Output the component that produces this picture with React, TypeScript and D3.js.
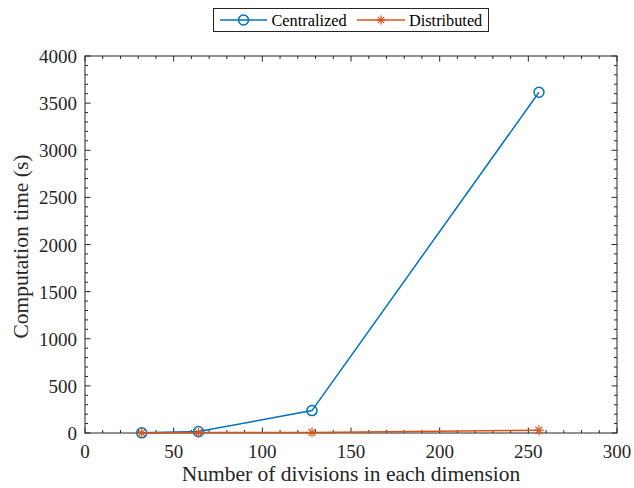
import React, { useEffect, useRef } from 'react';
import * as d3 from 'd3';

const divisions = [32, 64, 128, 256];
const centralized = [2, 15, 238, 3615];
const distributed = [1, 4, 5, 30];
const xTicks = [0, 50, 100, 150, 200, 250, 300];
const yTicks = [0, 500, 1000, 1500, 2000, 2500, 3000, 3500, 4000];

const BLUE = '#0072BD';
const ORANGE = '#D95319';
const FONT = '"Liberation Serif", "Times New Roman", serif';

const App = () => {
  const ref = useRef<SVGSVGElement>(null);

  useEffect(() => {
    const svg = d3.select(ref.current);
    svg.selectAll('*').remove();

    const width = 634;
    const height = 488;
    const margin = { top: 56, right: 17, bottom: 55, left: 85 };
    const innerW = width - margin.left - margin.right;
    const innerH = height - margin.top - margin.bottom;

    svg.append('rect').attr('width', width).attr('height', height).attr('fill', '#fff');

    const x = d3.scaleLinear().domain([0, 300]).range([0, innerW]);
    const y = d3.scaleLinear().domain([0, 4000]).range([innerH, 0]);

    const g = svg.append('g').attr('transform', `translate(${margin.left},${margin.top})`);

    // minor + major ticks, pointing inward on all four sides
    const minorX = d3.range(0, 301, 10);
    const minorY = d3.range(0, 4001, 100);
    const tickCol = '#262626';
    minorX.forEach(v => {
      const len = v % 50 === 0 ? 5.5 : 3;
      g.append('line').attr('x1', x(v)).attr('x2', x(v)).attr('y1', innerH).attr('y2', innerH - len)
        .attr('stroke', tickCol).attr('stroke-width', 1);
      g.append('line').attr('x1', x(v)).attr('x2', x(v)).attr('y1', 0).attr('y2', len)
        .attr('stroke', tickCol).attr('stroke-width', 1);
    });
    minorY.forEach(v => {
      const len = v % 500 === 0 ? 5.5 : 3;
      g.append('line').attr('x1', 0).attr('x2', len).attr('y1', y(v)).attr('y2', y(v))
        .attr('stroke', tickCol).attr('stroke-width', 1);
      g.append('line').attr('x1', innerW).attr('x2', innerW - len).attr('y1', y(v)).attr('y2', y(v))
        .attr('stroke', tickCol).attr('stroke-width', 1);
    });

    // box
    g.append('rect').attr('width', innerW).attr('height', innerH)
      .attr('fill', 'none').attr('stroke', tickCol).attr('stroke-width', 1);

    // tick labels
    g.selectAll('.xt').data(xTicks).enter().append('text')
      .attr('x', d => x(d)).attr('y', innerH + 25)
      .attr('text-anchor', 'middle')
      .style('font-family', FONT).style('font-size', '19px').attr('fill', '#262626')
      .text(d => d);
    g.selectAll('.yt').data(yTicks).enter().append('text')
      .attr('x', -8).attr('y', d => y(d) + 7)
      .attr('text-anchor', 'end')
      .style('font-family', FONT).style('font-size', '19px').attr('fill', '#262626')
      .text(d => d);

    // axis labels
    svg.append('text')
      .attr('x', 351).attr('y', 481)
      .attr('text-anchor', 'middle')
      .style('font-family', FONT).style('font-size', '21.5px').attr('fill', '#262626')
      .text('Number of divisions in each dimension');
    svg.append('text')
      .attr('transform', 'rotate(-90)')
      .attr('x', -246.5).attr('y', 28)
      .attr('text-anchor', 'middle')
      .style('font-family', FONT).style('font-size', '21.5px').attr('fill', '#262626')
      .text('Computation time (s)');

    const line = d3.line<number>().x((_, i) => x(divisions[i])).y(d => y(d));

    const star = (sel: any, cx: number, cy: number, color: string, r = 5) => {
      const s = sel.append('g').attr('transform', `translate(${cx},${cy})`)
        .attr('stroke', color).attr('stroke-width', 1.2);
      [0, 45, 90, 135].forEach(a => {
        const rad = (a * Math.PI) / 180;
        s.append('line').attr('x1', -r * Math.cos(rad)).attr('y1', -r * Math.sin(rad))
          .attr('x2', r * Math.cos(rad)).attr('y2', r * Math.sin(rad));
      });
    };

    // centralized
    g.append('path').datum(centralized).attr('d', line)
      .attr('fill', 'none').attr('stroke', BLUE).attr('stroke-width', 1.5);
    centralized.forEach((v, i) => {
      g.append('circle').attr('cx', x(divisions[i])).attr('cy', y(v)).attr('r', 5)
        .attr('fill', 'none').attr('stroke', BLUE).attr('stroke-width', 1.5);
    });

    // distributed
    g.append('path').datum(distributed).attr('d', line)
      .attr('fill', 'none').attr('stroke', ORANGE).attr('stroke-width', 1.5);
    distributed.forEach((v, i) => star(g, x(divisions[i]), y(v), ORANGE));

    // legend
    const lg = svg.append('g');
    lg.append('rect').attr('x', 213.5).attr('y', 8.5).attr('width', 275).attr('height', 23)
      .attr('fill', '#fff').attr('stroke', '#262626').attr('stroke-width', 1);
    const ly = 20;
    lg.append('line').attr('x1', 220).attr('x2', 267).attr('y1', ly).attr('y2', ly)
      .attr('stroke', BLUE).attr('stroke-width', 1.5);
    lg.append('circle').attr('cx', 243.5).attr('cy', ly).attr('r', 5)
      .attr('fill', 'none').attr('stroke', BLUE).attr('stroke-width', 1.5);
    lg.append('text').attr('x', 271.5).attr('y', ly + 6)
      .style('font-family', FONT).style('font-size', '16.3px').attr('fill', '#000')
      .text('Centralized');
    lg.append('line').attr('x1', 357).attr('x2', 405).attr('y1', ly).attr('y2', ly)
      .attr('stroke', ORANGE).attr('stroke-width', 1.5);
    star(lg, 381, ly, ORANGE, 4.5);
    lg.append('text').attr('x', 409).attr('y', ly + 6)
      .style('font-family', FONT).style('font-size', '16.3px').attr('fill', '#000')
      .text('Distributed');
  }, []);

  return (
    <svg ref={ref} width={634} height={488}
      style={{ position: 'absolute', left: 0, top: 0, display: 'block' }} />
  );
};

export default App;
